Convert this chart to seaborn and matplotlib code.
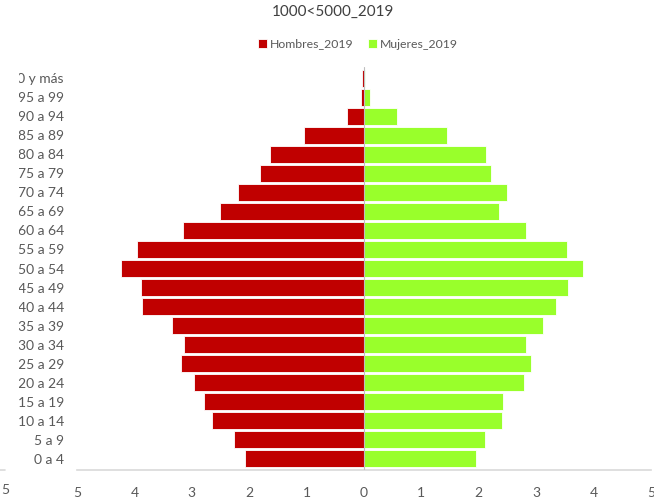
import pandas as pd
import matplotlib.pyplot as plt
import matplotlib.lines as mlines
from matplotlib.transforms import Bbox
import seaborn as sns
import numpy as np

# Datos (porcentaje de poblacion por grupo de edad)
edades = ["100 y más", "95 a 99", "90 a 94", "85 a 89", "80 a 84", "75 a 79",
          "70 a 74", "65 a 69", "60 a 64", "55 a 59", "50 a 54", "45 a 49",
          "40 a 44", "35 a 39", "30 a 34", "25 a 29", "20 a 24", "15 a 19",
          "10 a 14", "5 a 9", "0 a 4"]
hombres_2019 = [0.03, 0.06, 0.30, 1.05, 1.64, 1.82, 2.20, 2.51, 3.15, 3.95,
                4.23, 3.89, 3.86, 3.34, 3.13, 3.19, 2.96, 2.78, 2.65, 2.26, 2.07]
mujeres_2019 = [0.02, 0.10, 0.57, 1.45, 2.13, 2.21, 2.49, 2.35, 2.82, 3.54,
                3.82, 3.56, 3.35, 3.12, 2.82, 2.91, 2.78, 2.43, 2.41, 2.10, 1.95]
ticks_x = [-5, -4, -3, -2, -1, 0, 1, 2, 3, 4, 5]

titulo = "1000<5000_2019"
rojo = "#C00000"
verde = "#99FF2B"
gris = "#595959"

# tabla larga para seaborn (hombres en negativo)
df = pd.DataFrame({
    "edad": edades * 2,
    "valor": [-v for v in hombres_2019] + mujeres_2019,
    "sexo": ["Hombres_2019"] * len(edades) + ["Mujeres_2019"] * len(edades),
})

sns.set_theme(style="white")
plt.rcParams['font.family'] = ['Lato', 'DejaVu Sans']

fig = plt.figure(figsize=(6.54, 4.99), dpi=100)
ax = fig.add_axes([77 / 654, 1 - 470 / 499, 574 / 654, 403 / 499])

sns.barplot(data=df, y="edad", x="valor", hue="sexo", order=edades,
            palette={"Hombres_2019": rojo, "Mujeres_2019": verde},
            orient="h", dodge=False, width=0.88, ax=ax, saturation=1,
            edgecolor="white", linewidth=0.6)

ax.set_xlim(-5, 5)
ax.set_ylim(len(edades) - 0.4, -0.6)
ax.set_xticks(ticks_x)
ax.set_xticklabels([str(abs(t)) for t in ticks_x])
ax.set_xlabel("")
ax.set_ylabel("")
ax.axvline(0, color="#BFBFBF", lw=0.8, zorder=3)

for s in ["top", "right", "left"]:
    ax.spines[s].set_visible(False)
ax.spines["bottom"].set_color("#D9D9D9")
ax.spines["bottom"].set_linewidth(1.2)
ax.tick_params(axis="x", length=0, pad=12, labelsize=10, colors=gris)
ax.tick_params(axis="y", length=0, pad=9.5, labelsize=10, colors=gris)

# en el original las etiquetas largas quedan recortadas por la izquierda
caja = Bbox([[19, 0], [77, 499]])
for lab in ax.get_yticklabels():
    lab.set_clip_on(True)
    lab.set_clip_box(caja)

# leyenda arriba
ax.legend_.remove()
handles, labels = ax.get_legend_handles_labels()
fig.legend(handles[:2], labels[:2], loc="center", bbox_to_anchor=(358 / 654, 1 - 44 / 499),
           ncol=2, frameon=False, fontsize=8.8, labelcolor=gris,
           handlelength=0.7, handleheight=0.7, handletextpad=0.25, columnspacing=1.2)

fig.text(333 / 654, 1 - 12 / 499, titulo, ha="center", va="center", fontsize=11, color="#404040")

# restos del grafico vecino recortado
fig.text(5 / 654, 1 - 490 / 499, "5", ha="center", va="center", fontsize=10, color=gris)
fig.add_artist(mlines.Line2D([0, 5 / 654], [1 - 470 / 499] * 2, color="#D9D9D9", lw=1.2))

plt.savefig("out.png", dpi=100)
